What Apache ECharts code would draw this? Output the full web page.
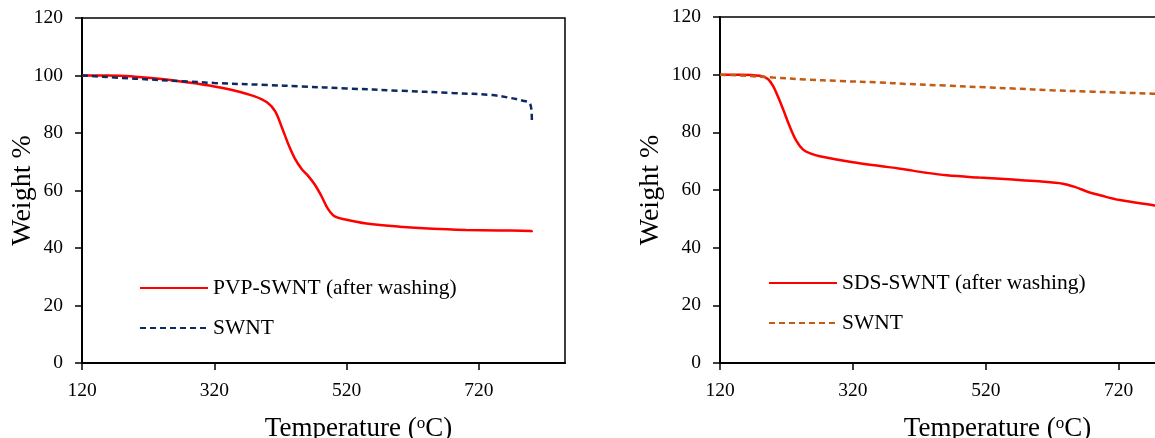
<!DOCTYPE html>
<html>
<head>
<meta charset="utf-8">
<script src="https://cdn.jsdelivr.net/npm/echarts@6/dist/echarts.min.js"></script>
<style>
  html, body { margin: 0; padding: 0; background: #fff; }
  #chart { width: 1155px; height: 438px; }
</style>
</head>
<body>
<div id="chart"></div>
<script>
// TGA curves: [temperature °C, weight %]
const pvpSwnt = [
  [120, 100], [160, 100], [200, 99.6], [240, 98.8], [280, 97.6], [320, 96.2],
  [350, 94.8], [380, 92.8], [400, 90.6], [412, 87.5], [422, 82], [432, 76],
  [442, 71], [452, 67.5], [462, 65], [472, 62], [482, 58], [492, 53.5],
  [502, 51], [520, 49.8], [550, 48.5], [600, 47.4], [650, 46.7], [700, 46.3],
  [750, 46.1], [799, 45.9], [800, 45.5]
];
const swntLeft = [
  [120, 100], [200, 98.9], [280, 97.9], [320, 97.4], [400, 96.7], [450, 96.2],
  [520, 95.5], [600, 94.7], [680, 93.9], [740, 93.2], [765, 92.3], [785, 91.3],
  [796, 90.5], [799, 88.5], [800, 83.5]
];
const sdsSwnt = [
  [120, 100], [150, 100], [180, 99.6], [192, 98.5], [200, 96], [208, 92],
  [215, 88], [225, 82], [235, 77], [245, 74], [258, 72.5], [270, 71.7],
  [320, 69.6], [361, 68.3], [391, 67.4], [430, 66], [461, 65.1], [510, 64.3],
  [561, 63.6], [600, 63], [636, 62.2], [655, 61], [672, 59.5], [695, 58],
  [722, 56.5], [774, 54.6], [800, 53.6]
];
const swntRight = [
  [120, 100], [160, 99.6], [200, 99], [250, 98.3], [300, 97.8], [361, 97.3],
  [400, 96.8], [460, 96.2], [520, 95.6], [561, 95.2], [620, 94.6], [680, 94.1],
  [720, 93.8], [771, 93.4], [800, 93.2]
];
const xTicks = [120, 320, 520, 720];
const leftNames = ['PVP-SWNT (after washing)', 'SWNT'];
const rightNames = ['SDS-SWNT (after washing)', 'SWNT '];

const FONT = '"Liberation Serif", "Times New Roman", serif';
const RED = '#ff0000';
const NAVY = '#0c2a60';
const ORANGE = '#c55a11';

function xAxis(gridIndex) {
  return {
    gridIndex, type: 'value', min: 120, max: 850,
    axisLine: { show: true, lineStyle: { color: '#000', width: 2 } },
    axisTick: { show: true, customValues: xTicks, length: 7, lineStyle: { color: '#000', width: 1.5 } },
    axisLabel: { customValues: xTicks, color: '#000', fontFamily: FONT, fontSize: 19.5, margin: 18 },
    splitLine: { show: false },
    name: '{t|Temperature (}{s|o}{t|C)}',
    nameLocation: 'middle', nameGap: 52, nameMoveOverlap: false,
    nameTextStyle: {
      padding: [0, 0, 0, 70],
      rich: {
        t: { fontFamily: FONT, fontSize: 27, color: '#000' },
        s: { fontFamily: FONT, fontSize: 17, color: '#000', padding: [0, 0, 11, 0] }
      }
    }
  };
}
function yAxis(gridIndex, gap) {
  return {
    gridIndex, type: 'value', min: 0, max: 120, interval: 20,
    axisLine: { show: true, lineStyle: { color: '#000', width: 2 } },
    axisTick: { show: true, length: 7, lineStyle: { color: '#000', width: 1.5 } },
    axisLabel: { color: '#000', fontFamily: FONT, fontSize: 19.5, margin: 19 },
    splitLine: { show: false },
    name: 'Weight %', nameLocation: 'middle', nameGap: gap, nameRotate: 90, nameMoveOverlap: false,
    nameTextStyle: { fontFamily: FONT, fontSize: 28, color: '#000' }
  };
}
function line(name, data, idx, color, type) {
  return {
    name, type: 'line', data, xAxisIndex: idx, yAxisIndex: idx,
    smooth: 0.35, symbol: 'none', showSymbol: false,
    lineStyle: { color, width: 2.5, type: type === 'dashed' ? [6, 4] : 'solid' },
    itemStyle: { color }, silent: true, animation: false
  };
}
function legend(names, left, top) {
  return {
    data: names, orient: 'vertical', left, top, padding: 0,
    itemWidth: 68, itemHeight: 14, itemGap: 18,
    itemStyle: { opacity: 0 },
    textStyle: { fontFamily: FONT, fontSize: 21.5, color: '#000' },
    selectedMode: false
  };
}
function grid(left, top, width, height) {
  return {
    left, top, width, height, containLabel: false, outerBoundsMode: 'none',
    show: true, borderColor: '#000', borderWidth: 1.5, backgroundColor: 'transparent'
  };
}

const chart = echarts.init(document.getElementById('chart'), null, { renderer: 'canvas' });
chart.setOption({
  animation: false,
  grid: [grid(82, 18, 483, 345), grid(720, 17, 485, 346)],
  xAxis: [xAxis(0), xAxis(1)],
  yAxis: [yAxis(0, 45), yAxis(1, 55)],
  legend: [legend(leftNames, 139, 277), legend(rightNames, 768, 272)],
  series: [
    line(leftNames[0], pvpSwnt, 0, RED, 'solid'),
    line(leftNames[1], swntLeft, 0, NAVY, 'dashed'),
    line(rightNames[0], sdsSwnt, 1, RED, 'solid'),
    line(rightNames[1], swntRight, 1, ORANGE, 'dashed')
  ]
});
</script>
</body>
</html>
